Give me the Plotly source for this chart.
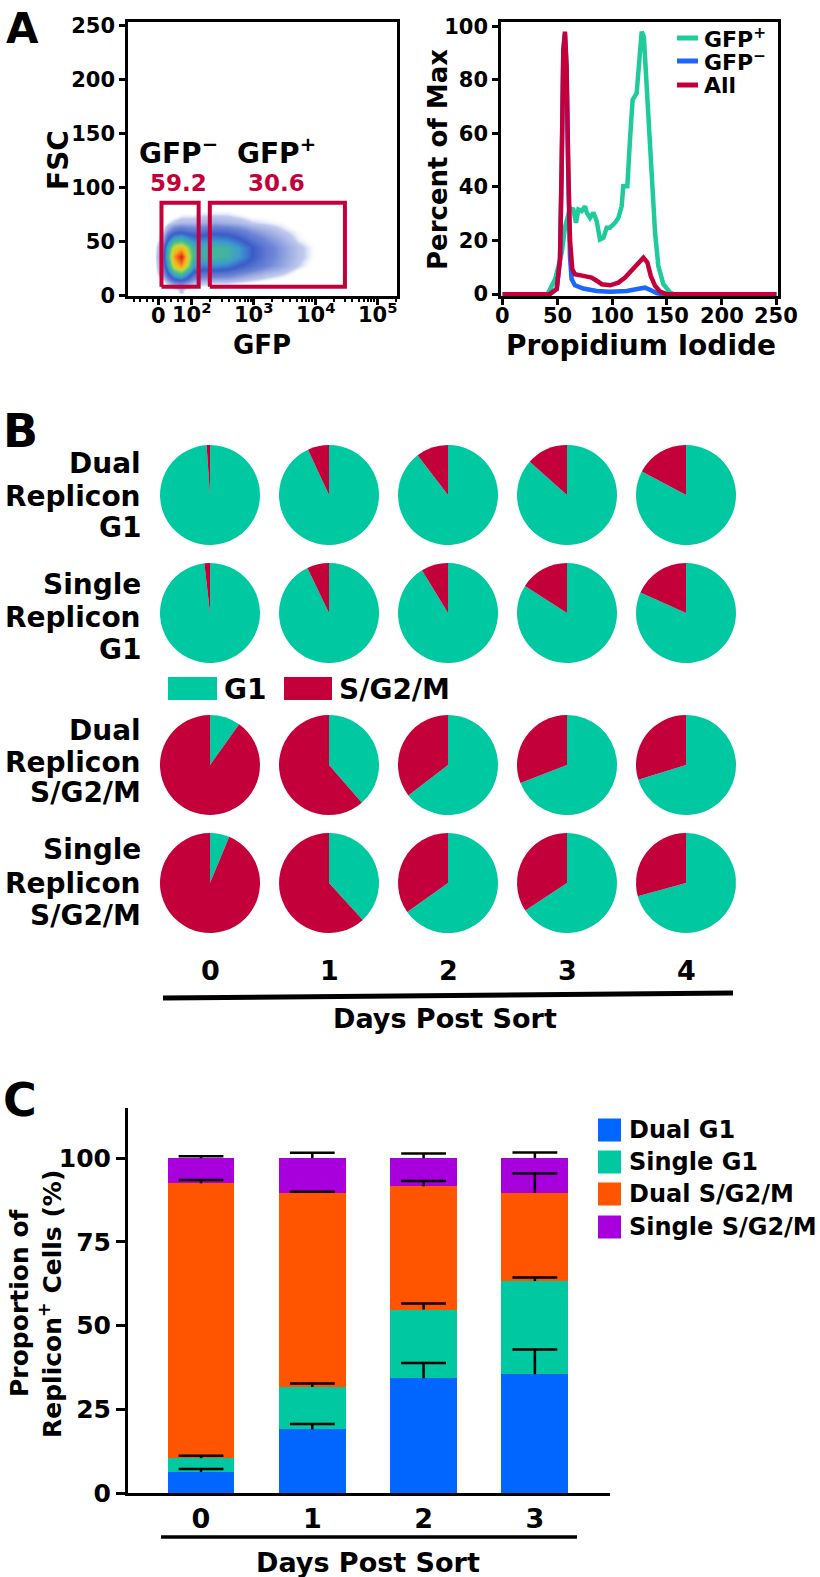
import numpy as np
import plotly.graph_objects as go

W, H = 820, 1577
FONT = "DejaVu Sans"
RED = "#c4003a"
TEAL = "#00c8a0"
HTEAL = "#1ecb9a"
HBLUE = "#1a66ff"

# ---------------- Panel A (left): GFP vs FSC density ----------------
gfp_tick_labels = ["0", "10<sup>2</sup>", "10<sup>3</sup>", "10<sup>4</sup>", "10<sup>5</sup>"]
gfp_tick_pos = [0.0, 0.53, 1.52, 2.52, 3.53]          # biexponential display units
gfp_minor_pos = [-0.4, -0.3, -0.2, -0.1, 0.1, 0.2, 0.3, 0.4,
                 0.83, 1.01, 1.13, 1.23, 1.31, 1.38, 1.43, 1.48,
                 1.82, 2.0, 2.12, 2.22, 2.3, 2.37, 2.42, 2.47,
                 2.82, 3.0, 3.12, 3.22, 3.3, 3.37, 3.42, 3.47, 3.83]
fsc_ticks = [0, 50, 100, 150, 200, 250]

gfp_grid = [-0.1, 0.05, 0.15, 0.25, 0.35, 0.45, 0.55, 0.7, 0.9, 1.1, 1.3, 1.5, 1.75, 2.0, 2.25, 2.5, 2.8]
fsc_grid = [5, 12, 20, 28, 36, 44, 52, 60, 68, 76, 84]
density = [
    [0, 0, 0, 0, 0.05, 0, 0, 0, 0, 0, 0, 0, 0, 0, 0, 0, 0],
    [0, 0, 0.06, 0.12, 0.14, 0.10, 0.06, 0.05, 0.04, 0.04, 0.03, 0.02, 0.01, 0, 0, 0, 0],
    [0, 0.07, 0.22, 0.38, 0.45, 0.32, 0.19, 0.16, 0.16, 0.15, 0.12, 0.09, 0.06, 0.04, 0.01, 0, 0],
    [0, 0.10, 0.36, 0.66, 0.80, 0.58, 0.34, 0.28, 0.30, 0.28, 0.22, 0.17, 0.12, 0.08, 0.04, 0.01, 0],
    [0, 0.12, 0.44, 0.80, 1.00, 0.68, 0.42, 0.38, 0.42, 0.40, 0.32, 0.22, 0.14, 0.09, 0.05, 0.02, 0],
    [0, 0.10, 0.40, 0.64, 0.72, 0.56, 0.40, 0.38, 0.42, 0.40, 0.32, 0.22, 0.14, 0.09, 0.05, 0.02, 0],
    [0, 0.05, 0.24, 0.38, 0.40, 0.34, 0.28, 0.28, 0.30, 0.28, 0.23, 0.16, 0.11, 0.07, 0.03, 0.01, 0],
    [0, 0.02, 0.10, 0.16, 0.18, 0.16, 0.15, 0.16, 0.18, 0.17, 0.14, 0.10, 0.07, 0.04, 0.02, 0, 0],
    [0, 0, 0.03, 0.05, 0.06, 0.06, 0.06, 0.07, 0.08, 0.07, 0.06, 0.04, 0.03, 0.02, 0, 0, 0],
    [0, 0, 0, 0, 0.02, 0.02, 0.02, 0.03, 0.03, 0.03, 0.02, 0.01, 0.01, 0, 0, 0, 0],
    [0, 0, 0, 0, 0, 0, 0, 0, 0, 0, 0, 0, 0, 0, 0, 0, 0],
]
gate_names = ["GFP<sup>−</sup>", "GFP<sup>+</sup>"]
gate_pct = ["59.2", "30.6"]
gate_x0 = [0.04, 0.82]
gate_x1 = [0.64, 3.00]
gate_y0 = [8, 8]
gate_y1 = [86, 86]

# ---------------- Panel A (right): PI histograms ----------------
pi_ticks = [0, 50, 100, 150, 200, 250]
pct_ticks = [0, 20, 40, 60, 80, 100]
gfp_pos_x = [0, 41, 48, 54, 57, 60, 61.5, 64.6, 67, 69.2, 72.2, 75.3, 76.8, 79.8, 82.9, 85.9,
             88.9, 92, 95, 98, 102.6, 105.7, 108.7, 110.2, 113.9, 116.3, 118.7, 122.4, 124.8,
             127, 129, 131.5, 133.9, 136.4, 139.2, 142.2, 146.8, 152.9, 155.9, 250]
gfp_pos_y = [0, 0, 5.6, 15.5, 25, 30, 32, 31.6, 26.6, 31.6, 31, 32.8, 30.4, 28.5, 30.4, 27.3,
             20.4, 21, 24.8, 24.8, 26.6, 28.5, 32.8, 40.3, 40.3, 57.6, 72.5, 75, 87,
             98, 96, 78.7, 60, 40.3, 23, 10.5, 3.7, 0.6, 0, 0]
gfp_neg_x = [0, 43, 49.4, 52.4, 53.9, 55.4, 56.9, 58.4, 59.9, 61.5, 63, 66, 73.6, 85.9, 98,
             113.4, 125.5, 130, 134.6, 140.7, 145.3, 250]
gfp_neg_y = [0, 0, 1.9, 13, 47, 90, 97, 84, 46, 14, 5.6, 3.3, 2.1, 1.2, 0.9,
             1.2, 2.1, 2.4, 1.6, 0.4, 0, 0]
all_x = [0, 43, 49.4, 52.4, 53.9, 55.4, 56.9, 58.4, 59.9, 61.5, 63.6, 66, 73.6, 81.2, 85.9,
         90.5, 98.1, 105.7, 111.8, 117.9, 120.9, 125.5, 128.6, 132.2, 135.3, 139.2, 143.8, 149.9, 250]
all_y = [0, 0, 1.9, 13, 47.7, 91, 98, 85, 47.7, 20.4, 9.3, 7.4, 6.8, 6.2, 5,
         3.7, 3.3, 4.3, 6.2, 8.7, 10.5, 11.8, 13.6, 11.8, 6.8, 3.1, 0.9, 0, 0]
hist_names = ["GFP<sup>+</sup>", "GFP<sup>−</sup>", "All"]

# ---------------- Panel B: pies (percent G1) ----------------
pie_days = ["0", "1", "2", "3", "4"]
pie_rows = [["Dual", "Replicon", "G1"], ["Single", "Replicon", "G1"],
            ["Dual", "Replicon", "S/G2/M"], ["Single", "Replicon", "S/G2/M"]]
g1_dual_g1_sorted = [98.9, 93.1, 89.6, 86.6, 82.8]
g1_single_g1_sorted = [98.2, 92.9, 91.3, 84.1, 81.7]
g1_dual_sg2m_sorted = [9.9, 38.6, 64.6, 69.1, 70.2]
g1_single_sg2m_sorted = [6.3, 38.2, 65.2, 65.7, 70.7]
pie_phases = ["G1", "S/G2/M"]

# ---------------- Panel C: stacked bars ----------------
days_c = [0, 1, 2, 3]
bar_names = ["Dual G1", "Single G1", "Dual S/G2/M", "Single S/G2/M"]
dual_g1 = [6.3, 19.0, 34.3, 35.5]
single_g1 = [4.1, 12.7, 20.5, 27.8]
dual_sg2m = [82.1, 58.0, 36.8, 26.4]
single_sg2m = [7.5, 10.3, 8.4, 10.3]
dual_g1_err = [0.9, 1.6, 4.5, 7.4]
single_g1_err = [0.7, 1.0, 1.8, 1.1]
dual_sg2m_err = [1.0, 0.3, 1.6, 5.7]
single_sg2m_err = [0.6, 1.6, 1.4, 1.7]
bar_ticks = [0, 25, 50, 75, 100]
bar_colors = ["#0066ff", "#00c8a0", "#ff5500", "#a800dd"]


def px(x):
    return x / W


def py(y):
    return 1 - y / H


fig = go.Figure()
annotations = []
shapes = []


def note(text, x, y, size, color="black", xanchor="center", yanchor="middle", angle=0):
    annotations.append(dict(text=text, x=px(x), y=py(y), xref="paper", yref="paper",
                            xanchor=xanchor, yanchor=yanchor, showarrow=False, textangle=angle,
                            font=dict(family=FONT, size=size, color=color, weight="bold")))


# ---- A left
fig.add_trace(go.Heatmap(
    x=gfp_grid, y=fsc_grid, z=density, zmin=0, zmax=1, zsmooth="best", showscale=False,
    colorscale=[[0, "rgba(255,255,255,0)"], [0.015, "rgba(255,255,255,0)"], [0.04, "#c2cbee"],
                [0.12, "#6f86d6"], [0.22, "#3a5cc8"], [0.32, "#3d9ad0"], [0.45, "#45c08a"],
                [0.6, "#c6d93a"], [0.75, "#f5b21e"], [0.88, "#f0601a"], [1, "#dd1818"]],
    xaxis="x", yaxis="y", hoverinfo="skip"))
for i in range(len(gate_names)):
    fig.add_trace(go.Scatter(
        x=[gate_x0[i], gate_x1[i], gate_x1[i], gate_x0[i], gate_x0[i]],
        y=[gate_y0[i], gate_y0[i], gate_y1[i], gate_y1[i], gate_y0[i]],
        mode="lines", line=dict(color=RED, width=4), xaxis="x", yaxis="y",
        showlegend=False, hoverinfo="skip"))
gate_label_x = [0.31, 1.90]
for i in range(len(gate_names)):
    annotations.append(dict(text=gate_names[i], x=gate_label_x[i], y=133, xref="x", yref="y",
                            showarrow=False,
                            font=dict(family=FONT, size=28, color="black", weight="bold")))
    annotations.append(dict(text=gate_pct[i], x=gate_label_x[i], y=104, xref="x", yref="y",
                            showarrow=False,
                            font=dict(family=FONT, size=23, color=RED, weight="bold")))
# x tick labels (placed on the axis scale)
for pos, lab in zip(gfp_tick_pos, gfp_tick_labels):
    annotations.append(dict(text=lab, x=pos, y=py(313 if "sup" in lab else 316), xref="x",
                            yref="paper", showarrow=False, yanchor="middle",
                            font=dict(family=FONT, size=21, color="black", weight="bold")))

# ---- A right
for xs, ys, col in [(gfp_pos_x, gfp_pos_y, HTEAL), (gfp_neg_x, gfp_neg_y, HBLUE), (all_x, all_y, RED)]:
    fig.add_trace(go.Scatter(x=xs, y=ys, mode="lines", line=dict(color=col, width=4.5),
                             xaxis="x2", yaxis="y2", showlegend=False, hoverinfo="skip"))
for name, col, yy in zip(hist_names, [HTEAL, HBLUE, RED], [38, 61, 85]):
    shapes.append(dict(type="line", xref="paper", yref="paper", x0=px(677), x1=px(698),
                       y0=py(yy), y1=py(yy), line=dict(color=col, width=5)))
    note(name, 702, yy, 22, xanchor="left")
for t in pi_ticks:
    annotations.append(dict(text=str(t), x=t, y=py(316), xref="x2", yref="paper",
                            showarrow=False, yanchor="middle",
                            font=dict(family=FONT, size=21, color="black", weight="bold")))

# ---- B pies
pie_cx = [210, 329, 448, 567, 686]
pie_cy = [495, 613, 765, 883]
pie_r = 50
rows_vals = [g1_dual_g1_sorted, g1_single_g1_sorted, g1_dual_sg2m_sorted, g1_single_sg2m_sorted]
for r, vals in enumerate(rows_vals):
    for c, v in enumerate(vals):
        fig.add_trace(go.Pie(
            values=[v, 100 - v], labels=pie_phases, sort=False, direction="clockwise", rotation=0,
            marker=dict(colors=[TEAL, RED], line=dict(width=0)), textinfo="none",
            hoverinfo="label+percent", showlegend=False,
            domain=dict(x=[px(pie_cx[c] - pie_r), px(pie_cx[c] + pie_r)],
                        y=[py(pie_cy[r] + pie_r), py(pie_cy[r] - pie_r)])))

row_line_y = [[463, 496, 527], [584, 617, 650], [730, 762, 792], [849, 883, 915]]
for lines, ys in zip(pie_rows, row_line_y):
    for t, yy in zip(lines, ys):
        note(t, 143, yy, 28, xanchor="right")
for d, cx in zip(pie_days, pie_cx):
    note(d, cx, 970, 27)
shapes.append(dict(type="line", xref="paper", yref="paper", x0=px(163), y0=py(998),
                   x1=px(733), y1=py(993), line=dict(color="black", width=5)))
note("Days Post Sort", 445, 1018, 27)
shapes.append(dict(type="rect", xref="paper", yref="paper", x0=px(168), x1=px(217),
                   y0=py(700), y1=py(677), fillcolor=TEAL, line=dict(width=0)))
shapes.append(dict(type="rect", xref="paper", yref="paper", x0=px(284), x1=px(332),
                   y0=py(700), y1=py(677), fillcolor=RED, line=dict(width=0)))
note(pie_phases[0], 222, 689, 28, xanchor="left")
note(pie_phases[1], 337, 689, 28, xanchor="left")

# ---- C bars
seg_vals = [dual_g1, single_g1, dual_sg2m, single_sg2m]
seg_errs = [dual_g1_err, single_g1_err, dual_sg2m_err, single_sg2m_err]
for name, vals, col in zip(bar_names, seg_vals, bar_colors):
    fig.add_trace(go.Bar(x=days_c, y=vals, name=name, marker=dict(color=col, line=dict(width=0)),
                         width=0.6, xaxis="x3", yaxis="y3", showlegend=False))
tops = np.cumsum(np.array(seg_vals), axis=0)
for i in range(4):
    err = np.array(seg_errs[i])
    fig.add_trace(go.Scatter(
        x=days_c, y=tops[i] + err, mode="markers", xaxis="x3", yaxis="y3", showlegend=False,
        marker=dict(symbol="line-ew", size=32, color="black", line=dict(width=2.5, color="black")),
        error_y=dict(type="data", symmetric=False, array=[0] * 4, arrayminus=err,
                     width=0, thickness=2.5, color="black"), hoverinfo="skip"))
leg_y = [1130, 1162, 1194, 1227]
for name, col, yy in zip(bar_names, bar_colors, leg_y):
    shapes.append(dict(type="rect", xref="paper", yref="paper", x0=px(598), x1=px(621),
                       y0=py(yy + 11.5), y1=py(yy - 11.5), fillcolor=col, line=dict(width=0)))
    note(name, 627, yy, 24, xanchor="left")
note("Proportion of", 19, 1303, 25, angle=-90)
note("Replicon<sup>+</sup> Cells (%)", 50, 1304, 25, angle=-90)
shapes.append(dict(type="line", xref="paper", yref="paper", x0=px(161), y0=py(1537),
                   x1=px(577), y1=py(1537), line=dict(color="black", width=3.5)))
note("Days Post Sort", 368, 1562, 27)

# ---- Panel A titles and panel letters
note("FSC", 58, 160, 28, angle=-90)
note("GFP", 262, 345, 26)
note("Percent of Max", 438, 160, 26, angle=-90)
note("Propidium Iodide", 641, 345, 28)
note("A", 22, 28, 42)
note("B", 20, 431, 46)
note("C", 20, 1100, 46)

axis_common = dict(showgrid=False, zeroline=False, showline=True, linecolor="black",
                   ticks="outside", tickcolor="black")
tick_font = lambda s: dict(family=FONT, size=s, color="black", weight="bold")

fig.update_layout(
    width=W, height=H, margin=dict(l=0, r=0, t=0, b=0, autoexpand=False),
    paper_bgcolor="white", plot_bgcolor="white", showlegend=False, barmode="stack",
    annotations=annotations, shapes=shapes,
    xaxis=dict(axis_common, domain=[px(128), px(397)], range=[-0.5, 3.84], mirror=True,
               linewidth=2.5, ticklen=6, tickwidth=2.5, tickvals=gfp_tick_pos,
               showticklabels=False, anchor="y", automargin=False,
               minor=dict(tickvals=gfp_minor_pos, ticklen=3, tickwidth=1.5, ticks="outside",
                          tickcolor="black")),
    yaxis=dict(axis_common, domain=[py(296), py(22)], range=[-0.5, 253.5], mirror=True,
               linewidth=2.5, ticklen=6, tickwidth=2.5, tickvals=fsc_ticks,
               tickfont=tick_font(21), anchor="x", automargin=False),
    xaxis2=dict(axis_common, domain=[px(501), px(778)], range=[-1.5, 251.5], mirror=True,
                linewidth=2.5, ticklen=6, tickwidth=2.5, tickvals=pi_ticks,
                showticklabels=False, anchor="y2", automargin=False),
    yaxis2=dict(axis_common, domain=[py(296), py(22)], range=[-0.7, 101.6], mirror=True,
                linewidth=2.5, ticklen=6, tickwidth=2.5, tickvals=pct_ticks,
                tickfont=tick_font(21), anchor="x2", automargin=False),
    xaxis3=dict(axis_common, domain=[px(128), px(610)], range=[-0.656, 3.675],
                linewidth=3, ticks="", tickvals=days_c, ticktext=[str(d) for d in days_c],
                tickfont=tick_font(27), anchor="y3", tickangle=0, automargin=False),
    yaxis3=dict(axis_common, domain=[py(1493), py(1108)], range=[0, 115], linewidth=3,
                ticklen=9, tickwidth=3, tickvals=bar_ticks, tickfont=tick_font(25), anchor="x3",
                automargin=False),
)

fig.write_html("out.html", config={"displayModeBar": False},
               post_script="document.body.style.margin='0px';document.body.style.overflow='hidden';")
